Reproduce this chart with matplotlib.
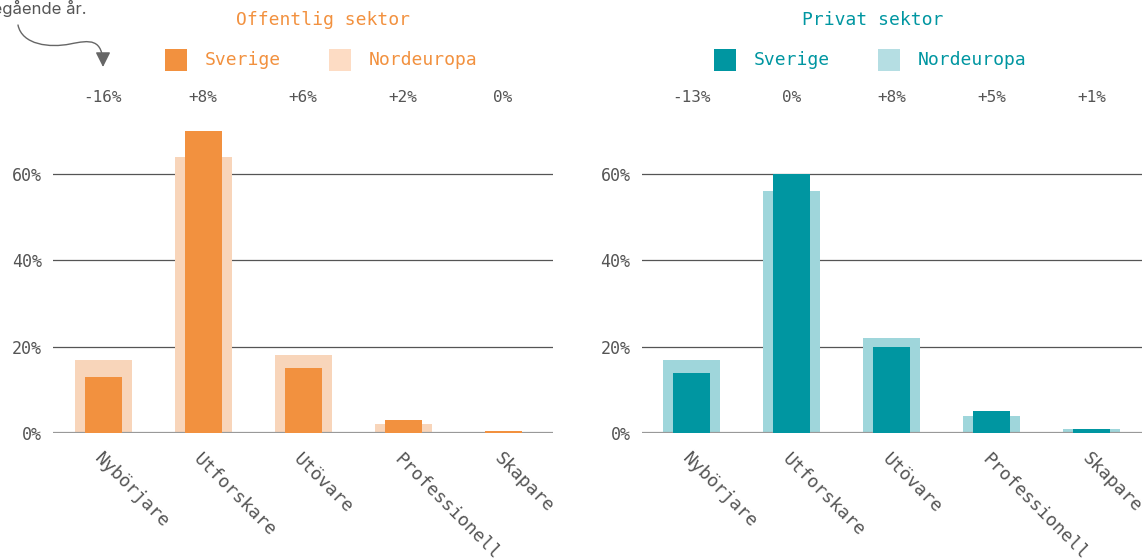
import matplotlib
matplotlib.use("Agg")
import matplotlib.pyplot as plt
from matplotlib.path import Path
from matplotlib.patches import FancyArrowPatch, Rectangle
import matplotlib.transforms as mtransforms

categories = ["Nybörjare", "Utforskare", "Utövare", "Professionell", "Skapare"]
yticks = [0, 20, 40, 60]
ytick_labels = ["0%", "20%", "40%", "60%"]

# Offentlig sektor
pub_sverige = [13, 70, 15, 3, 0.5]
pub_norden = [17, 64, 18, 2, 0.3]
pub_change = ["-16%", "+8%", "+6%", "+2%", "0%"]

# Privat sektor
priv_sverige = [14, 60, 20, 5, 1]
priv_norden = [17, 56, 22, 4, 1]
priv_change = ["-13%", "0%", "+8%", "+5%", "+1%"]

ORANGE = "#F2913F"
ORANGE_L = "#F8D5BA"
ORANGE_LEG = "#FDDCC4"
TEAL = "#0096A1"
TEAL_L = "#9FD6DB"
TEAL_LEG = "#B5DEE3"
GRAY = "#555555"
MONO = "DejaVu Sans Mono"

W, H = 1145, 560
fig = plt.figure(figsize=(W / 100, H / 100), dpi=100)

def px(x, y):
    return x / W, 1 - y / H

def panel(left_px, sv, nd, change, c_dark, c_light, c_leg, title, title_x, leg_x):
    x0, _ = px(left_px, 0)
    ax = fig.add_axes([x0, 127 / H, 500 / W, 310.7 / H])
    idx = list(range(len(categories)))
    ax.bar(idx, nd, width=0.57, color=c_light, zorder=2)
    ax.bar(idx, sv, width=0.37, color=c_dark, zorder=3)
    ax.set_xlim(-0.5, 4.5)
    ax.set_ylim(0, 72)
    for s in ax.spines.values():
        s.set_visible(False)
    ax.set_yticks(yticks)
    ax.set_yticklabels(ytick_labels, fontfamily=MONO, fontsize=12, color=GRAY)
    ax.tick_params(axis="y", length=0, pad=8)
    for t in yticks[1:]:
        ax.axhline(t, color="#555555", lw=0.9, zorder=1)
    ax.axhline(0, color="#999999", lw=1.6, zorder=2.5)
    ax.set_xticks(idx)
    ax.set_xticklabels(categories, fontfamily=MONO, fontsize=13, color=GRAY,
                       rotation=-45, ha="left", va="top", rotation_mode="anchor")
    ax.tick_params(axis="x", length=0, pad=12)
    # change labels
    tr = mtransforms.blended_transform_factory(ax.transData, fig.transFigure)
    for i, c in enumerate(change):
        ax.text(i, px(0, 97)[1], c, transform=tr,
                ha="center", va="center", fontfamily=MONO, fontsize=11.5, color=GRAY)
    # title
    tx, ty = px(title_x, 20)
    fig.text(tx, ty, title, ha="center", va="center", fontfamily=MONO,
             fontsize=13, color=c_dark)
    # legend
    lx = leg_x
    for col, name in [(c_dark, "Sverige"), (c_leg, "Nordeuropa")]:
        rx, ry = px(lx, 71)
        fig.add_artist(Rectangle((rx, ry), 22 / W, 22 / H, transform=fig.transFigure,
                                 color=col, lw=0))
        tx2, ty2 = px(lx + 40, 60)
        fig.text(tx2, ty2, name, ha="left", va="center", fontfamily=MONO,
                 fontsize=13, color=c_dark)
        lx = lx + 164
    return ax

panel(53, pub_sverige, pub_norden, pub_change, ORANGE, ORANGE_L, ORANGE_LEG,
      "Offentlig sektor", 323, 165)
panel(641.5, priv_sverige, priv_norden, priv_change, TEAL, TEAL_L, TEAL_LEG,
      "Privat sektor", 873, 714)

# annotation
ax_, ay_ = px(87, 8)
fig.text(ax_, ay_, "Förändring jämfört med föregående år.", ha="right", va="center",
         fontfamily="Inter", fontsize=12, color=GRAY)
verts = [px(18, 25), px(22, 45), px(50, 48), px(70, 44),
         px(90, 40), px(103, 38), px(103, 67)]
codes = [Path.MOVETO, Path.CURVE4, Path.CURVE4, Path.CURVE4,
         Path.CURVE4, Path.CURVE4, Path.CURVE4]
arrow = FancyArrowPatch(path=Path(verts, codes), transform=fig.transFigure,
                        arrowstyle="-|>,head_length=9,head_width=4.5",
                        color="#666666", lw=1.0)
fig.add_artist(arrow)

fig.savefig("out.png", dpi=100)
